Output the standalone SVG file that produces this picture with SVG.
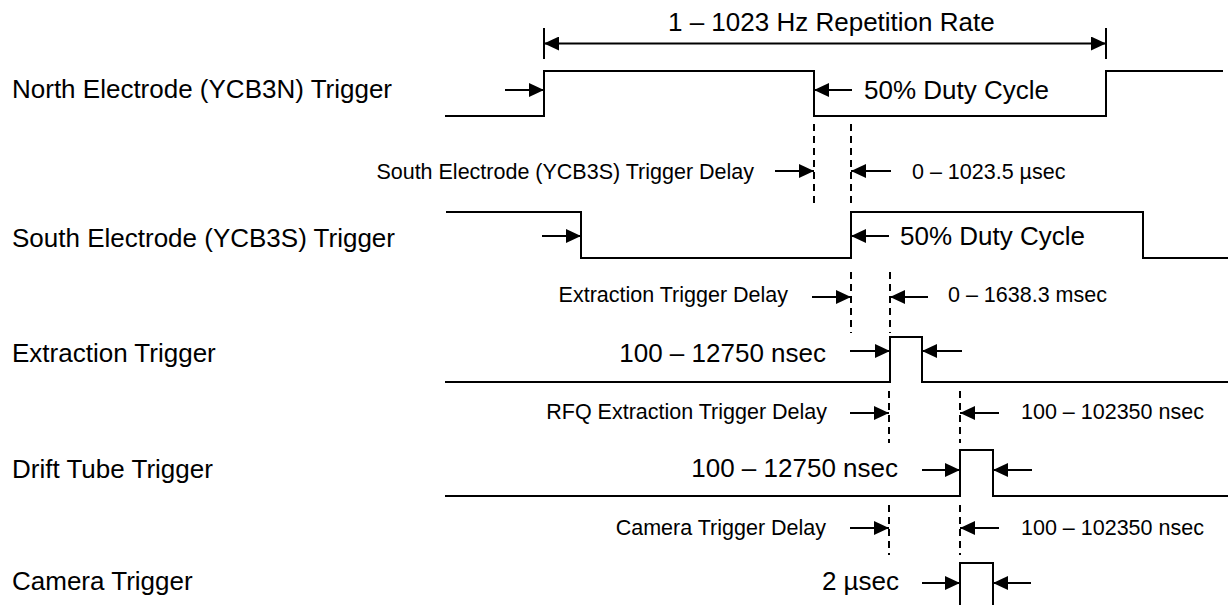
<svg xmlns="http://www.w3.org/2000/svg" width="1228" height="605" viewBox="0 0 1228 605">
<style>
text{font-family:"Liberation Sans",Arial,sans-serif;fill:#000}
.big{font-size:26px}
.small{font-size:21.5px}
.sig{fill:none;stroke:#000;stroke-width:2}
.arr{fill:none;stroke:#000;stroke-width:2;marker-end:url(#ah)}
.dash{fill:none;stroke:#000;stroke-width:2;stroke-dasharray:7 5}
.tick{fill:none;stroke:#000;stroke-width:2}
</style>
<defs>
<marker id="ah" markerUnits="userSpaceOnUse" markerWidth="16" markerHeight="14" refX="15" refY="7" orient="auto-start-reverse">
<path d="M0,0 L15,7 L0,14 z" fill="#000"/>
</marker>
</defs>
<rect width="1228" height="605" fill="#fff"/>

<g id="north">
<text class="big" x="12" y="98">North Electrode (YCB3N) Trigger</text>
<polyline class="sig" points="445,116 544,116 544,71 814,71 814,116 1106,116 1106,71 1223,71"/>
<text class="big" x="864" y="99">50% Duty Cycle</text>
</g>

<g id="rate">
<text class="big" x="668" y="31">1 – 1023 Hz Repetition Rate</text>
</g>

<g id="south">
<text class="big" x="12" y="247">South Electrode (YCB3S) Trigger</text>
<polyline class="sig" points="446,212 581,212 581,258 851,258 851,212 1143,212 1143,258 1228,258"/>
<text class="big" x="900" y="245">50% Duty Cycle</text>
</g>

<g id="south-delay">
<text class="small" x="754" y="179" text-anchor="end">South Electrode (YCB3S) Trigger Delay</text>
<text class="small" x="912" y="179">0 – 1023.5 µsec</text>
</g>

<g id="extraction">
<text class="big" x="12" y="362">Extraction Trigger</text>
<polyline class="sig" points="445,382 890,382 890,337 922,337 922,382 1228,382"/>
<text class="big" x="826" y="362" text-anchor="end">100 – 12750 nsec</text>
</g>

<g id="extraction-delay">
<text class="small" x="788" y="302" text-anchor="end">Extraction Trigger Delay</text>
<text class="small" x="948" y="302">0 – 1638.3 msec</text>
</g>

<g id="drift">
<text class="big" x="12" y="478">Drift Tube Trigger</text>
<polyline class="sig" points="445,496 960,496 960,450 993,450 993,496 1228,496"/>
<text class="big" x="898" y="477" text-anchor="end">100 – 12750 nsec</text>
</g>

<g id="rfq-delay">
<text class="small" x="827" y="419" text-anchor="end">RFQ Extraction Trigger Delay</text>
<text class="small" x="1021" y="419">100 – 102350 nsec</text>
</g>

<g id="camera">
<text class="big" x="12" y="590">Camera Trigger</text>
<polyline class="sig" points="960,606 960,563 993,563 993,606"/>
<text class="big" x="899" y="590" text-anchor="end">2 µsec</text>
</g>

<g id="camera-delay">
<text class="small" x="826" y="535" text-anchor="end">Camera Trigger Delay</text>
<text class="small" x="1021" y="535">100 – 102350 nsec</text>
</g>

<g id="connectors">
<line class="tick" x1="544" y1="28" x2="544" y2="59"/>
<line class="tick" x1="1106" y1="28" x2="1106" y2="59"/>
<line x1="544" y1="43.5" x2="1106" y2="43.5" stroke="#000" stroke-width="2" marker-start="url(#ah)" marker-end="url(#ah)"/>
<line class="arr" x1="505" y1="90" x2="544" y2="90"/>
<line class="arr" x1="852" y1="90" x2="814" y2="90"/>
<line class="dash" x1="814" y1="124" x2="814" y2="203"/>
<line class="dash" x1="851" y1="124" x2="851" y2="203"/>
<line class="arr" x1="775" y1="171" x2="814" y2="171"/>
<line class="arr" x1="891" y1="171" x2="851" y2="171"/>
<line class="arr" x1="542" y1="236" x2="581" y2="236"/>
<line class="arr" x1="889" y1="236" x2="851" y2="236"/>
<line class="dash" x1="851" y1="272" x2="851" y2="333"/>
<line class="dash" x1="890" y1="272" x2="890" y2="333"/>
<line class="arr" x1="812" y1="297" x2="851" y2="297"/>
<line class="arr" x1="928" y1="297" x2="890" y2="297"/>
<line class="arr" x1="850" y1="351" x2="890" y2="351"/>
<line class="arr" x1="962" y1="351" x2="922" y2="351"/>
<line class="dash" x1="889" y1="391" x2="889" y2="443"/>
<line class="dash" x1="960" y1="391" x2="960" y2="443"/>
<line class="arr" x1="850" y1="413" x2="889" y2="413"/>
<line class="arr" x1="999" y1="413" x2="960" y2="413"/>
<line class="arr" x1="922" y1="470" x2="960" y2="470"/>
<line class="arr" x1="1032" y1="470" x2="993" y2="470"/>
<line class="dash" x1="889" y1="505" x2="889" y2="555"/>
<line class="dash" x1="960" y1="505" x2="960" y2="555"/>
<line class="arr" x1="850" y1="528" x2="889" y2="528"/>
<line class="arr" x1="999" y1="528" x2="960" y2="528"/>
<line class="arr" x1="922" y1="583" x2="960" y2="583"/>
<line class="arr" x1="1031" y1="583" x2="993" y2="583"/>
</g>
</svg>
